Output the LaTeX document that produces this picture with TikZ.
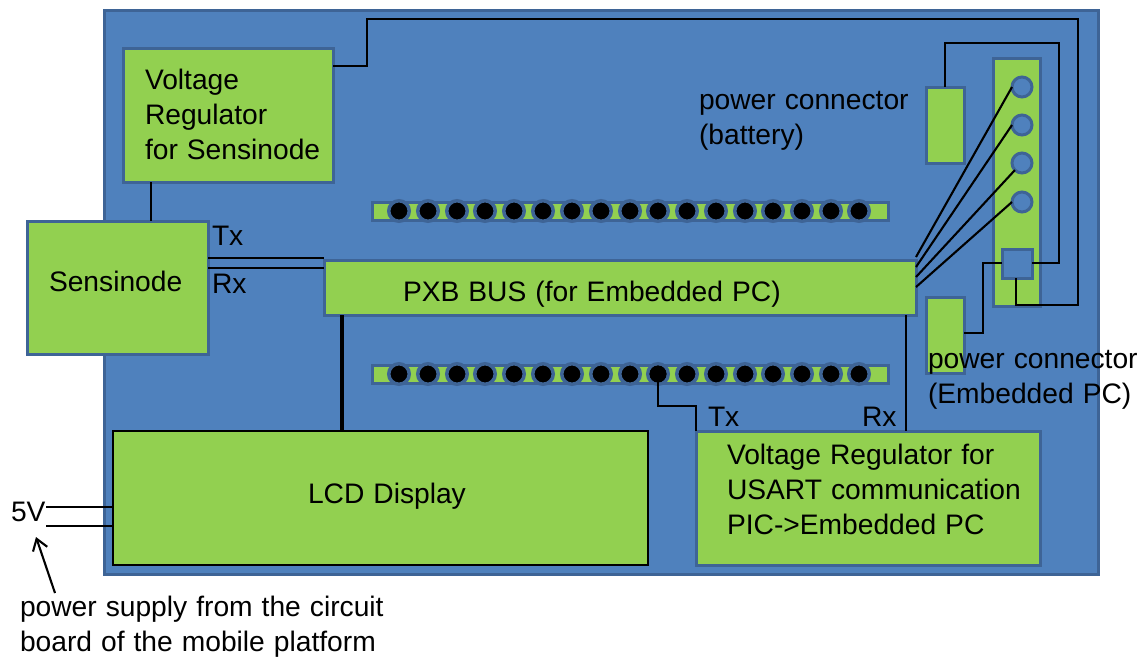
\documentclass[tikz,border=0pt]{standalone}
\usepackage{fontspec}
\setmainfont{Liberation Sans}[WordSpace=1.15]
\usetikzlibrary{arrows.meta}
\definecolor{boardblue}{HTML}{4F81BD}
\definecolor{edgeblue}{HTML}{3E6496}
\definecolor{partgreen}{HTML}{92D050}
\tikzset{
  x=1pt,y=-1pt,
  every node/.style={outer sep=0pt},
  board/.style={draw=edgeblue,line width=3pt,fill=boardblue,inner sep=0pt},
  part/.style={draw=edgeblue,line width=3pt,fill=partgreen,inner sep=0pt},
  lcdbox/.style={draw=black,line width=2.2pt,fill=partgreen,inner sep=0pt},
  strip/.style={draw=edgeblue,line width=3pt,fill=partgreen,inner sep=0pt},
  pin/.style={circle,draw=edgeblue,line width=3.5pt,fill=black,minimum size=20.5pt,inner sep=0pt},
  hole/.style={circle,draw=edgeblue,line width=3pt,fill=boardblue,minimum size=20pt,inner sep=0pt},
  socket/.style={draw=edgeblue,line width=3pt,fill=boardblue,inner sep=0pt},
  wire/.style={draw=black,line width=2.1pt,line join=miter},
  heavywire/.style={draw=black,line width=3.8pt},
  txt/.style={font=\fontsize{28.2}{34.6}\selectfont,anchor=base west,align=left,inner sep=0pt,text=black},
}
\begin{document}
\begin{tikzpicture}
\useasboundingbox (0,0) rectangle (1144,657);
% board
\node[board,minimum width=994pt,minimum height=564pt,anchor=north west] (board) at (104,10) {};
% strips and pins
\node[strip,minimum width=516pt,minimum height=18pt,anchor=north west] (topstrip) at (372,202) {};
\node[strip,minimum width=516pt,minimum height=18pt,anchor=north west] (botstrip) at (372,365) {};
\foreach \i/\x in {1/399,2/428,3/457,4/485,5/514,6/543,7/572,8/601,9/630,10/658,11/687,12/716,13/745,14/773,15/802,16/831,17/859}{
  \node[pin] (tp\i) at (\x,211) {};
  \node[pin] (bp\i) at (\x,374) {};
}
% parts
\node[part,minimum width=210pt,minimum height=134pt,anchor=north west] (vreg) at (123,48) {};
\node[part,minimum width=181pt,minimum height=133pt,anchor=north west] (sens) at (27,221) {};
\node[part,minimum width=592pt,minimum height=55pt,anchor=north west] (pxb) at (324,260) {};
\node[lcdbox,minimum width=535pt,minimum height=134pt,anchor=north west] (lcd) at (113,431) {};
\node[part,minimum width=344pt,minimum height=134pt,anchor=north west] (usart) at (696,431) {};
\node[part,minimum width=38pt,minimum height=76pt,anchor=north west] (batt) at (926,87) {};
\node[part,minimum width=38pt,minimum height=76pt,anchor=north west] (epc) at (926,297) {};
\node[part,minimum width=47pt,minimum height=248pt,anchor=north west] (hdr) at (993,58) {};
\node[hole] (h1) at (1022,87) {};
\node[hole] (h2) at (1022,125) {};
\node[hole] (h3) at (1022,163) {};
\node[hole] (h4) at (1022,202) {};
\node[socket,minimum width=30pt,minimum height=29pt,anchor=north west] (sock) at (1002,249) {};
% free ends and offsets
\coordinate (vregw) at (vreg.east |- 0,66);
\coordinate (vregs) at (151,0 |- vreg.south);
\coordinate (senst) at (151,0 |- sens.north);
\coordinate (txa) at (sens.east |- 0,258);
\coordinate (txb) at (pxb.west |- 0,258);
\coordinate (rxa) at (sens.east |- 0,268);
\coordinate (rxb) at (pxb.west |- 0,268);
\coordinate (pxbl) at (342,0 |- pxb.south);
\coordinate (lcdn) at (342,0 |- lcd.north);
\coordinate (pxbr) at (906,0 |- pxb.south);
\coordinate (usartr) at (906,0 |- usart.north);
\coordinate (usartl) at (usart.north west);
\coordinate (ba) at (916,257);
\coordinate (bb) at (916,267);
\coordinate (bc) at (916,277);
\coordinate (bd) at (916,287);
\coordinate (fivea) at (46,507);
\coordinate (fiveb) at (46,526);
\coordinate (arrtail) at (55,593);
\coordinate (arrtip) at (36,537);
% connectors
\draw[wire] (vregs) -- (senst);
\draw[wire] (vregw) -- (367,66) -- (367,19) -- (1078,19) -- (1078,305) -- (1016,305) -- (sock.south -| 1016,0);
\draw[wire] (batt.north) -- (batt.north |- 0,43) -- (1059,43) -- (1059,263) -- (sock.east |- 0,263);
\draw[wire] (sock.west |- 0,263) -- (983,263) -- (983,333) -- (epc.east |- 0,333);
\draw[wire] (txa) -- (txb);
\draw[wire] (rxa) -- (rxb);
\draw[heavywire] (pxbl) -- (lcdn);
\draw[wire] (pxbr) -- (usartr);
\draw[wire] (bp10.center) -- (658,406) -- (696,406) -- (usartl);
\node[circle,fill=black,minimum size=17pt,inner sep=0pt] (bp10dot) at (bp10.center) {};
\draw[wire] (ba) -- (h1.west);
\draw[wire] (bb) -- (h2.west);
\draw[wire] (bc) -- (h3.south west);
\draw[wire] (bd) -- (h4.west);
\draw[wire] (fivea) -- (lcd.west |- fivea);
\draw[wire] (fiveb) -- (lcd.west |- fiveb);
\draw[line width=2.1pt,-{Straight Barb[length=11pt,width=15pt]}] (arrtail) -- (arrtip);
% labels
\node[txt] (tvreg) at (145,159) {Voltage\\Regulator\\for Sensinode};
\node[txt] (tsens) at (49,291) {Sensinode};
\node[txt] (ttx) at (212,245) {Tx};
\node[txt] (trx) at (212,293) {Rx};
\node[txt] (tpxb) at (403,301) {PXB BUS (for Embedded PC)};
\node[txt] (tlcd) at (308,503) {LCD Display};
\node[txt] (tusart) at (727,534) {Voltage Regulator for\\USART communication\\PIC->Embedded PC};
\node[txt] (ttx2) at (708,426) {Tx};
\node[txt] (trx2) at (862,426) {Rx};
\node[txt] (tbatt) at (699,144) {power connector\\(battery)};
\node[txt] (tepc) at (928,403) {power connector\\(Embedded PC)};
\node[txt] (tfive) at (11,521) {5V};
\node[txt] (tsupply) at (20,651) {power supply from the circuit\\board of the mobile platform};
\end{tikzpicture}
\end{document}
